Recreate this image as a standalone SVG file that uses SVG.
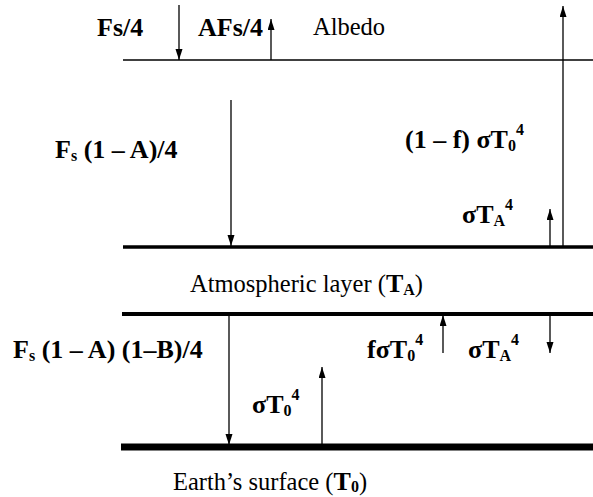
<svg xmlns="http://www.w3.org/2000/svg" width="593" height="497" viewBox="0 0 593 497">
<style>
.b{font-family:"Liberation Serif","Times New Roman",serif;font-weight:bold;font-size:26px;fill:#000}
.n{font-family:"Liberation Serif","Times New Roman",serif;font-weight:normal;font-size:24.5px;fill:#000}
.ar{stroke:#000;stroke-width:1.3;fill:none;marker-end:url(#ah)}
.sm{font-size:16px}
</style>
<defs>
<marker id="ah" markerUnits="userSpaceOnUse" markerWidth="12" markerHeight="8" refX="11" refY="3.5" orient="auto">
<path d="M0,0 L11,3.5 L0,7 z" fill="#000"/>
</marker>
</defs>
<rect width="593" height="497" fill="#fff"/>
<g id="layers">
<line x1="123" y1="60" x2="593" y2="60" stroke="#000" stroke-width="1.6"/>
<line x1="123" y1="247" x2="593" y2="247" stroke="#000" stroke-width="3.5"/>
<line x1="122" y1="314" x2="593" y2="314" stroke="#000" stroke-width="4"/>
<line x1="121" y1="447" x2="593" y2="447" stroke="#000" stroke-width="7"/>
</g>
<g id="connectors">
<line class="ar" x1="179" y1="5" x2="179" y2="60"/>
<line class="ar" x1="271" y1="60" x2="271" y2="19"/>
<line class="ar" x1="563" y1="247" x2="563" y2="6"/>
<line class="ar" x1="231" y1="100" x2="231" y2="246"/>
<line class="ar" x1="550" y1="246" x2="550" y2="209"/>
<line class="ar" x1="229" y1="315" x2="229" y2="445"/>
<line class="ar" x1="322" y1="445" x2="322" y2="367"/>
<line class="ar" x1="443" y1="353" x2="443" y2="315"/>
<line class="ar" x1="550" y1="315" x2="550" y2="353"/>
</g>
<g id="top-labels">
<text class="b" x="97" y="36" font-size="25">Fs/4</text>
<text class="b" x="198" y="36" font-size="25">AFs/4</text>
<text class="n" x="313" y="35" font-size="27">Albedo</text>
</g>
<g id="atmos-labels">
<text class="b" x="55" y="158">F<tspan class="sm" dy="3">s</tspan><tspan dy="-3"> (1 – A)/4</tspan></text>
<text class="b" x="405" y="148">(1 – f) σT<tspan class="sm" dy="3">0</tspan><tspan class="sm" dy="-16">4</tspan></text>
<text class="b" x="462" y="223">σT<tspan class="sm" dy="3">A</tspan><tspan class="sm" dy="-16">4</tspan></text>
<text class="n" x="190" y="292">Atmospheric layer (<tspan class="b" font-size="24.5">T<tspan class="sm" dy="3">A</tspan></tspan><tspan dy="-3">)</tspan></text>
</g>
<g id="surface-labels">
<text class="b" x="13" y="358">F<tspan class="sm" dy="3">s</tspan><tspan dy="-3"> (1 – A) (1–B)/4</tspan></text>
<text class="b" x="367" y="358">fσT<tspan class="sm" dy="3">0</tspan><tspan class="sm" dy="-16">4</tspan></text>
<text class="b" x="468" y="358">σT<tspan class="sm" dy="3">A</tspan><tspan class="sm" dy="-16">4</tspan></text>
<text class="b" x="252" y="413">σT<tspan class="sm" dy="3">0</tspan><tspan class="sm" dy="-16">4</tspan></text>
<text class="n" x="173" y="490">Earth’s surface (<tspan class="b" font-size="24.5">T<tspan class="sm" dy="2">0</tspan></tspan><tspan dy="-2">)</tspan></text>
</g>
</svg>
